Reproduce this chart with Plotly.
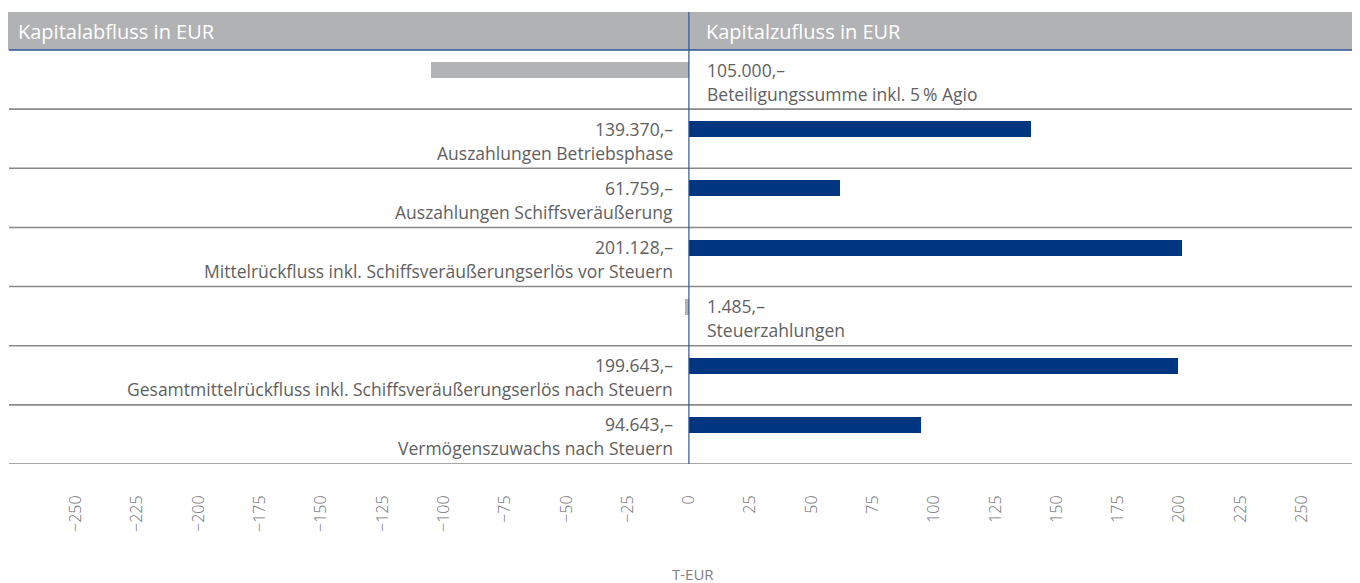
import plotly.graph_objects as go

# ---- data ----
row_labels = [
    "Beteiligungssumme inkl. 5\u2009% Agio",
    "Auszahlungen Betriebsphase",
    "Auszahlungen Schiffsveräußerung",
    "Mittelrückfluss inkl. Schiffsveräußerungserlös vor Steuern",
    "Steuerzahlungen",
    "Gesamtmittelrückfluss inkl. Schiffsveräußerungserlös nach Steuern",
    "Vermögenszuwachs nach Steuern",
]
values_eur = [-105000, 139370, 61759, 201128, -1485, 199643, 94643]
value_texts = ["105.000,–", "139.370,–", "61.759,–", "201.128,–", "1.485,–", "199.643,–", "94.643,–"]
tick_vals = [-250, -225, -200, -175, -150, -125, -100, -75, -50, -25, 0,
             25, 50, 75, 100, 125, 150, 175, 200, 225, 250]
tick_text = [("\u2212" + str(abs(v))) if v < 0 else str(v) for v in tick_vals]
header_left = "Kapitalabfluss in EUR"
header_right = "Kapitalzufluss in EUR"
axis_title = "T-EUR"

NAVY = "#00357f"
GRAY_BAR = "#b2b3b5"
HEADER_GRAY = "#b1b2b4"
LINE_BLUE = "#2f5597"
SEP_GRAY = "#8a8a8a"
TEXT = "#5f5f5f"
FONT = "Open Sans"

n = len(row_labels)
idx = list(range(n))
x_teur = [v / 1000 for v in values_eur]
colors = [NAVY if v > 0 else GRAY_BAR for v in values_eur]

fig = go.Figure()
fig.add_trace(go.Bar(
    x=x_teur, y=idx, orientation="h",
    marker=dict(color=colors, line=dict(width=0)),
    width=0.27, offset=-0.295,
    hoverinfo="skip", showlegend=False,
))

header_top = -1.1425
shapes = []
shapes.append(dict(type="rect", xref="paper", yref="y", x0=-0.002, x1=1, y0=header_top, y1=-0.5,
                   fillcolor=HEADER_GRAY, line=dict(width=0), layer="below"))
for i in range(n):
    shapes.append(dict(type="line", xref="paper", yref="y", x0=0, x1=1, y0=i + 0.5, y1=i + 0.5,
                       line=dict(color=SEP_GRAY, width=1.6)))
shapes.append(dict(type="line", xref="paper", yref="y", x0=0, x1=1, y0=-0.5, y1=-0.5,
                   line=dict(color=LINE_BLUE, width=1.6)))
shapes.append(dict(type="line", xref="x", yref="y", x0=0, x1=0, y0=header_top, y1=n - 0.5,
                   line=dict(color=LINE_BLUE, width=1.2)))

annotations = []
annotations.append(dict(text=header_left, xref="paper", yref="y", x=0, y=(header_top - 0.5) / 2,
                        xanchor="left", yanchor="middle", xshift=7, showarrow=False,
                        font=dict(family=FONT, size=20, color="white")))
annotations.append(dict(text=header_right, xref="x", yref="y", x=0, y=(header_top - 0.5) / 2,
                        xanchor="left", yanchor="middle", xshift=15, showarrow=False,
                        font=dict(family=FONT, size=20, color="white")))
for i in range(n):
    pos = values_eur[i] > 0
    anchor = "right" if pos else "left"
    xs = -14 if pos else 16
    annotations.append(dict(text=value_texts[i], xref="x", yref="y", x=0, y=i,
                            xanchor=anchor, yanchor="middle", xshift=xs, yshift=10,
                            showarrow=False, font=dict(family=FONT, size=17.5, color=TEXT)))
    annotations.append(dict(text=row_labels[i], xref="x", yref="y", x=0, y=i,
                            xanchor=anchor, yanchor="middle", xshift=xs, yshift=-14,
                            showarrow=False, font=dict(family=FONT, size=17.5, color=TEXT)))
annotations.append(dict(text=axis_title, xref="x", yref="paper", x=0, y=-0.243,
                        xanchor="center", yanchor="middle", xshift=4, showarrow=False,
                        font=dict(family=FONT, size=15, color="#808080")))

# page body has an 8px margin: figure placed at (8, 8)
fig.update_layout(
    width=1352, height=575,
    margin=dict(l=1, r=0, t=4, b=119),
    plot_bgcolor="white", paper_bgcolor="white",
    shapes=shapes, annotations=annotations,
    xaxis=dict(range=[-277.3, 273.7], tickvals=tick_vals, ticktext=tick_text,
               tickangle=-90, ticks="outside", ticklen=24, tickcolor="rgba(0,0,0,0)",
               showgrid=False, zeroline=False, showline=False,
               tickfont=dict(family=FONT, size=16, color="#6f6f6f", weight=300)),
    yaxis=dict(range=[n - 0.5, header_top], showticklabels=False, showgrid=False,
               zeroline=False, showline=False, ticks=""),
    bargap=0,
)

fig.write_html("out.html")
